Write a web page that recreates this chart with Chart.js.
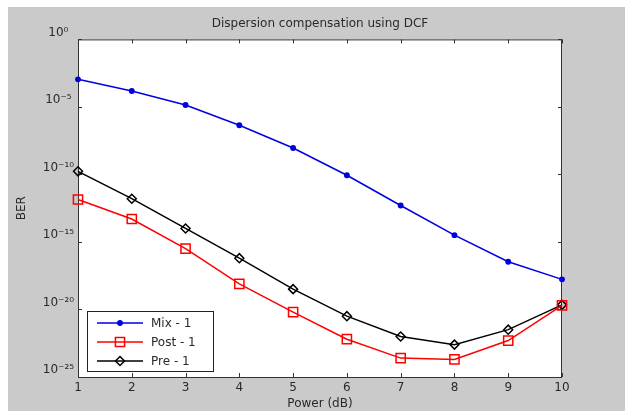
<!DOCTYPE html>
<html>
<head>
<meta charset="utf-8">
<script src="https://cdn.jsdelivr.net/npm/chart.js@4.4.1/dist/chart.umd.min.js"></script>
<style>
  html, body { margin: 0; padding: 0; background: #ffffff; }
  #wrap { width: 625px; height: 411px; position: relative; }
</style>
</head>
<body>
<div id="wrap"><canvas id="c" width="625" height="411"></canvas></div>
<script>
// ---- data ----
const powerDb = [1, 2, 3, 4, 5, 6, 7, 8, 9, 10];
const mixBER  = [1.1e-3, 1.5e-4, 1.4e-5, 4.4e-7, 9.1e-9, 8.7e-11, 5.0e-13, 3.2e-15, 3.4e-17, 1.7e-18];
const postBER = [1.4e-12, 5.0e-14, 3.2e-16, 7.9e-19, 6.3e-21, 6.3e-23, 2.5e-24, 2.0e-24, 5.0e-23, 2.0e-20];
const preBER  = [1.7e-10, 1.6e-12, 1.0e-14, 6.3e-17, 3.2e-19, 3.2e-21, 1.0e-22, 2.5e-23, 3.2e-22, 2.2e-20];
const seriesNames = ['Mix - 1', 'Post - 1', 'Pre - 1'];
const yTickValues = [1e-25, 1e-20, 1e-15, 1e-10, 1e-5, 1];
const xTickValues = [1, 2, 3, 4, 5, 6, 7, 8, 9, 10];
const chartTitle = 'Dispersion compensation using DCF';
const xTitle = 'Power (dB)';
const yTitle = 'BER';

const SUP = {'-':'\u207B','0':'\u2070','1':'\u00B9','2':'\u00B2','3':'\u00B3','4':'\u2074','5':'\u2075','6':'\u2076','7':'\u2077','8':'\u2078','9':'\u2079'};
function pow10Label(v) {
  const e = Math.round(Math.log10(v));
  return '10' + String(e).split('').map(ch => SUP[ch]).join('');
}
function pts(arr) { return powerDb.map((x, i) => ({x: x, y: arr[i]})); }

const FONT = '"DejaVu Sans", Verdana, sans-serif';
const TXT = '#2a2a2a';

const styles = [
  {color: '#0000e0', pointStyle: 'circle', radius: 2.2, fill: '#0000e0'},
  {color: '#ff0000', pointStyle: 'rect', radius: 6.5, fill: 'rgba(255,255,255,0)'},
  {color: '#000000', pointStyle: 'rectRot', radius: 4.5, fill: 'rgba(255,255,255,0)'}
];
const seriesData = [mixBER, postBER, preBER];

const bgPlugin = {
  id: 'bg',
  beforeDraw(chart) {
    const ctx = chart.ctx, a = chart.chartArea;
    ctx.save();
    ctx.fillStyle = '#ffffff';
    ctx.fillRect(0, 0, chart.width, chart.height);
    ctx.fillStyle = '#cacaca';
    ctx.fillRect(8, 7, chart.width - 8, chart.height - 7);
    ctx.fillStyle = '#ffffff';
    ctx.fillRect(a.left, a.top, a.right - a.left, a.bottom - a.top);
    ctx.restore();
  },
  beforeDatasetsDraw(chart) {
    const ctx = chart.ctx, a = chart.chartArea;
    const xs = chart.scales.x, ys = chart.scales.y;
    ctx.save();
    ctx.strokeStyle = '#333333';
    ctx.lineWidth = 1;
    ctx.strokeRect(a.left + 0.5, a.top + 0.5, a.right - a.left - 1, a.bottom - a.top);
    ctx.beginPath();
    xTickValues.forEach(v => {
      const px = Math.round(xs.getPixelForValue(v)) + 0.5;
      ctx.moveTo(px, a.bottom); ctx.lineTo(px, a.bottom - 4);
      ctx.moveTo(px, a.top); ctx.lineTo(px, a.top + 4);
    });
    yTickValues.forEach(v => {
      const py = Math.round(ys.getPixelForValue(v)) + 0.5;
      ctx.moveTo(a.left, py); ctx.lineTo(a.left + 4, py);
      ctx.moveTo(a.right, py); ctx.lineTo(a.right - 4, py);
    });
    ctx.stroke();
    ctx.restore();
  },
  afterDraw(chart) {
    const ctx = chart.ctx;
    const bx = 87, by = 311, bw = 126, bh = 60;
    ctx.save();
    ctx.fillStyle = '#ffffff';
    ctx.fillRect(bx, by, bw, bh);
    ctx.strokeStyle = '#222222';
    ctx.lineWidth = 1;
    ctx.strokeRect(bx + 0.5, by + 0.5, bw, bh);
    const rows = [323, 342, 361];
    chart.data.datasets.forEach((ds, i) => {
      const y = rows[i];
      ctx.strokeStyle = ds.borderColor;
      ctx.lineWidth = 1.5;
      ctx.beginPath(); ctx.moveTo(97, y); ctx.lineTo(143, y); ctx.stroke();
      ctx.fillStyle = ds.pointBackgroundColor;
      ctx.strokeStyle = ds.borderColor;
      ctx.lineWidth = ds.pointBorderWidth;
      ctx.beginPath();
      const r = ds.pointRadius;
      if (ds.pointStyle === 'circle') { ctx.arc(120, y, r, 0, Math.PI * 2); ctx.fill(); ctx.stroke(); }
      else if (ds.pointStyle === 'rect') { const s = r * Math.SQRT1_2; ctx.rect(120 - s, y - s, 2 * s, 2 * s); ctx.stroke(); }
      else { ctx.moveTo(120, y - r); ctx.lineTo(120 + r, y); ctx.lineTo(120, y + r); ctx.lineTo(120 - r, y); ctx.closePath(); ctx.stroke(); }
      ctx.fillStyle = TXT;
      ctx.font = '12px ' + FONT;
      ctx.textBaseline = 'middle';
      ctx.textAlign = 'left';
      ctx.fillText(ds.label, 151, y + 1);
    });
    ctx.restore();
  }
};

new Chart(document.getElementById('c'), {
  type: 'line',
  data: {
    datasets: seriesNames.map((name, i) => ({
      label: name,
      data: pts(seriesData[i]),
      borderColor: styles[i].color,
      backgroundColor: styles[i].fill,
      pointBackgroundColor: styles[i].fill,
      pointBorderColor: styles[i].color,
      pointStyle: styles[i].pointStyle,
      pointRadius: styles[i].radius,
      pointHoverRadius: styles[i].radius,
      pointBorderWidth: 1.5,
      borderWidth: 1.5,
      tension: 0,
      clip: false
    }))
  },
  options: {
    responsive: false,
    animation: false,
    events: [],
    layout: { padding: { top: 1, right: 63, bottom: 0, left: 0 } },
    plugins: {
      legend: { display: false },
      tooltip: { enabled: false },
      title: {
        display: true,
        fullSize: false,
        text: chartTitle,
        color: TXT,
        font: { family: FONT, size: 12, weight: 'normal', lineHeight: 1.2 },
        padding: { top: 16, bottom: 8 }
      }
    },
    scales: {
      x: {
        type: 'linear',
        min: 1, max: 10,
        afterBuildTicks(scale) { scale.ticks = xTickValues.map(v => ({value: v})); },
        afterFit(scale) { scale.height = 34; },
        grid: { display: false, drawTicks: false },
        border: { display: false },
        ticks: { color: TXT, padding: 4, font: { family: FONT, size: 12 }, maxRotation: 0, autoSkip: false },
        title: { display: true, text: xTitle, color: TXT, font: { family: FONT, size: 12, lineHeight: 1.2 }, padding: { top: 0, bottom: 0 } }
      },
      y: {
        type: 'logarithmic',
        min: 1e-25, max: 1,
        afterBuildTicks(scale) { scale.ticks = yTickValues.map(v => ({value: v})); },
        afterFit(scale) { scale.width = 78; },
        grid: { display: false, drawTicks: false },
        border: { display: false },
        ticks: {
          color: TXT, padding: 4, labelOffset: -7, autoSkip: false, crossAlign: 'center',
          font: { family: FONT, size: 12 },
          callback: (v) => pow10Label(v)
        },
        title: { display: true, text: yTitle, color: TXT, font: { family: FONT, size: 12, lineHeight: 1.2 }, padding: { top: 15, bottom: 0 } }
      }
    }
  },
  plugins: [bgPlugin]
});
</script>
</body>
</html>
